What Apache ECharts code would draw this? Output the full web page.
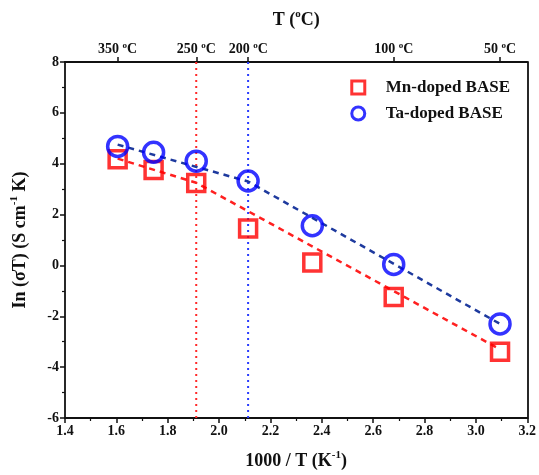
<!DOCTYPE html>
<html>
<head>
<meta charset="utf-8">
<script src="https://cdn.jsdelivr.net/npm/echarts@6/dist/echarts.min.js"></script>
<style>html,body{margin:0;padding:0;background:#fff}#c{width:539px;height:475px}</style>
</head>
<body>
<div id="c"></div>
<script>
// ---- data ----
const invT = [1.605, 1.745, 1.911, 2.113, 2.363, 2.680, 3.094];
const mnValues = [4.18, 3.75, 3.24, 1.45, 0.12, -1.24, -3.39];
const taValues = [4.68, 4.45, 4.10, 3.32, 1.56, 0.04, -2.30];
const mnFitX = [1.605, 1.911, 3.094];
const mnFitY = [4.20, 3.25, -3.30];
const taFitX = [1.605, 2.113, 3.094];
const taFitY = [4.75, 3.30, -2.30];
const guideX = [1.911, 2.113];
const topTempsC = [350, 250, 200, 100, 50];
const xMin = 1.4, xMax = 3.2, xStep = 0.2;
const yMin = -6, yMax = 8, yStep = 2;

const font = 'Liberation Serif';
const pair = (xs, ys) => xs.map((x, i) => [x, ys[i]]);
const topPos = topTempsC.map(t => 1000 / (t + 273.15));

const chart = echarts.init(document.getElementById('c'));
const axisLbl = {fontFamily: font, fontWeight: 'bold', fontSize: 14, color: '#111'};
const nameStyle = {
  fontFamily: font, fontWeight: 'bold', fontSize: 18, color: '#111',
  rich: {
    a: {fontFamily: font, fontWeight: 'bold', fontSize: 18, color: '#111', lineHeight: 22},
    s: {fontFamily: font, fontWeight: 'bold', fontSize: 11, color: '#111', verticalAlign: 'top', lineHeight: 22}
  }
};

chart.setOption({
  animation: false,
  grid: {left: 65, right: 9, top: 62, bottom: 54},
  legend: {
    data: [
      {name: 'Mn-doped BASE', itemStyle: {borderWidth: 3, borderColor: '#ff0000', color: 'rgba(255,255,255,0)'}},
      {name: 'Ta-doped BASE', itemStyle: {borderWidth: 3, borderColor: '#0000ff', color: 'rgba(255,255,255,0)'}}
    ],
    orient: 'vertical', right: 24, top: 74, itemGap: 9,
    itemWidth: 13, itemHeight: 13,
    textStyle: {fontFamily: font, fontWeight: 'bold', fontSize: 17, color: '#111', padding: [0, 0, 0, 16]}
  },
  xAxis: [{
    type: 'value', min: xMin, max: xMax, interval: xStep, position: 'bottom',
    name: '{a|1000 / T (K}{s|-1}{a|)}', nameLocation: 'middle', nameGap: 32,
    nameTextStyle: nameStyle,
    axisLine: {onZero: false, lineStyle: {color: '#111', width: 1.8}},
    axisTick: {length: 5, lineStyle: {color: '#111', width: 1.5}},
    minorTick: {show: true, splitNumber: 2, length: 3, lineStyle: {color: '#111', width: 1.2}},
    splitLine: {show: false},
    axisLabel: Object.assign({margin: 6, formatter: v => v.toFixed(1)}, axisLbl)
  }, {
    type: 'value', min: xMin, max: xMax, position: 'top',
    name: '{a|T (}{s|o}{a|C)}', nameLocation: 'middle', nameGap: 31,
    nameTextStyle: nameStyle,
    axisLine: {onZero: false, lineStyle: {color: '#111', width: 1.8}},
    axisTick: {customValues: topPos, length: 5, lineStyle: {color: '#111', width: 1.5}},
    splitLine: {show: false},
    axisLabel: Object.assign({
      customValues: topPos, margin: 5,
      formatter: v => '{a|' + Math.round(1000 / v - 273.15) + ' }{s|o}{a|C}',
      rich: {
        a: {fontFamily: font, fontWeight: 'bold', fontSize: 14, color: '#111', lineHeight: 16},
        s: {fontFamily: font, fontWeight: 'bold', fontSize: 9, color: '#111', verticalAlign: 'top', lineHeight: 16}
      }
    }, axisLbl)
  }],
  yAxis: [{
    type: 'value', min: yMin, max: yMax, interval: yStep, position: 'left',
    name: '{a|In (σT) (S cm}{s|-1}{a| K)}', nameLocation: 'middle', nameGap: 34,
    nameTextStyle: nameStyle,
    axisLine: {onZero: false, lineStyle: {color: '#111', width: 1.8}},
    axisTick: {length: 5, lineStyle: {color: '#111', width: 1.5}},
    minorTick: {show: true, splitNumber: 2, length: 3, lineStyle: {color: '#111', width: 1.2}},
    splitLine: {show: false},
    axisLabel: Object.assign({margin: 6}, axisLbl)
  }, {
    type: 'value', min: yMin, max: yMax, position: 'right',
    axisLine: {show: true, onZero: false, lineStyle: {color: '#111', width: 1.8}},
    axisTick: {show: false}, axisLabel: {show: false}, splitLine: {show: false}
  }],
  series: [
    {type: 'line', data: [[guideX[0], yMin], [guideX[0], yMax]], symbol: 'none', silent: true, z: 1,
     lineStyle: {color: '#ff2a2a', width: 2, type: [2, 4]}},
    {type: 'line', data: [[guideX[1], yMin], [guideX[1], yMax]], symbol: 'none', silent: true, z: 1,
     lineStyle: {color: '#2a3cff', width: 2, type: [2, 4]}},
    {type: 'line', data: pair(mnFitX, mnFitY), symbol: 'none', z: 2,
     lineStyle: {color: '#ff2020', width: 2.5, type: [6, 5]}},
    {type: 'line', data: pair(taFitX, taFitY), symbol: 'none', z: 2,
     lineStyle: {color: '#1e3a9e', width: 2.5, type: [6, 5]}},
    {name: 'Mn-doped BASE', type: 'scatter', data: pair(invT, mnValues), symbol: 'rect', symbolSize: 17, z: 3,
     itemStyle: {color: 'rgba(255,255,255,0)', borderColor: '#ff0000', borderWidth: 3.5}},
    {name: 'Ta-doped BASE', type: 'scatter', data: pair(invT, taValues), symbol: 'circle', symbolSize: 20, z: 3,
     itemStyle: {color: 'rgba(255,255,255,0)', borderColor: '#0000ff', borderWidth: 3.5}}
  ]
});
</script>
</body>
</html>
